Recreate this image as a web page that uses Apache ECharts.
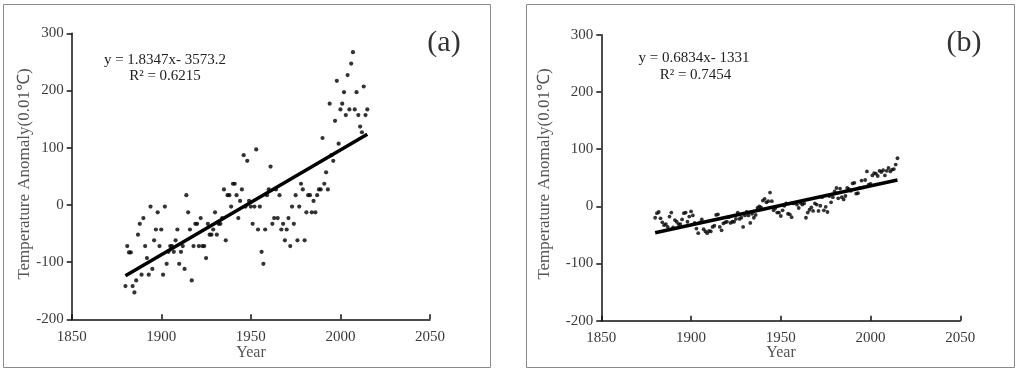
<!DOCTYPE html>
<html>
<head>
<meta charset="utf-8">
<script src="https://cdn.jsdelivr.net/npm/echarts@6/dist/echarts.min.js"></script>
<style>
html,body{margin:0;padding:0;background:#fff;}
#chart{width:1024px;height:373px;}
</style>
</head>
<body>
<div id="chart"></div>
<script>
// ---------- data ----------
var firstYear = 1880;
// Panel (a): regional annual temperature anomaly (0.01 °C), 1880-2015
var anomalyA = [
 -142,-72,-83,-83,-142,-153,-132,-52,-33,-122,
 -23,-72,-93,-122,-3,-112,-62,-43,-13,-72,
 -43,-122,-3,-103,-82,-72,-72,-82,-62,-43,
 -103,-82,-72,-112,17,-13,-43,-132,-72,-33,
 -33,-72,-23,-72,-72,-93,-33,-52,-52,-43,
 -13,-52,-33,-33,-23,27,-62,17,17,-3,
 37,37,17,-23,7,27,87,-3,77,7,
 -3,-33,-3,97,-43,-3,-82,-103,-43,17,
 27,67,-33,-23,27,-23,17,-43,-33,-62,
 -43,-23,-72,-3,-33,17,-62,-3,37,27,
 -62,-13,17,17,-13,7,-13,17,27,27,
 117,37,57,27,177,87,77,147,217,107,
 167,177,197,157,227,167,247,267,167,197,
 157,137,127,207,157,167
];
// Panel (b): global annual temperature anomaly (0.01 °C), 1880-2015
var anomalyB = [
 -20,-12,-10,-21,-28,-33,-31,-36,-18,-11,
 -37,-24,-27,-31,-31,-23,-12,-11,-27,-18,
 -9,-16,-29,-39,-47,-28,-23,-40,-44,-47,
 -43,-44,-36,-34,-15,-14,-36,-42,-30,-28,
 -27,-19,-29,-27,-27,-22,-11,-22,-20,-36,
 -16,-10,-16,-29,-13,-20,-15,-3,0,-2,
 10,13,7,9,24,9,-7,-3,-11,-11,
 -17,-7,1,5,-13,-14,-19,5,6,3,
 -3,6,3,5,-20,-11,-6,-2,-8,5,
 3,-8,1,16,-7,-1,-10,18,7,16,
 26,32,14,31,16,12,18,32,30,27,
 40,41,22,23,32,45,33,46,61,38,
 39,54,58,57,53,62,60,63,54,62,
 67,61,64,65,73,84
];
// Linear trend endpoints (years, values)
var trendYears = [1880, 2015];
var trendA = [-124.0, 123.7];
var trendB = [-46.2, 46.1];
var equationA = ['y = 1.8347x- 3573.2', 'R\u00B2 = 0.6215'];
var equationB = ['y = 0.6834x- 1331', 'R\u00B2 = 0.7454'];
var panelLabels = ['(a)', '(b)'];
var xTicks = {min: 1850, max: 2050, interval: 50};
var yTicks = {min: -200, max: 300, interval: 100};
var xName = 'Year';
var yName = 'Temperature Anomaly(0.01\u2103)';

// ---------- build ----------
function pairs(vals){
  var out = [];
  for (var i = 0; i < vals.length; i++) out.push([firstYear + i, vals[i]]);
  return out;
}
function trendPairs(v){ return [[trendYears[0], v[0]], [trendYears[1], v[1]]]; }

var serif = '"Liberation Serif","Times New Roman",serif';
var numColor = '#3a3a3a';
function plain(v){ return String(v); }

function xAx(gi){
  return {
    gridIndex: gi, type: 'value', min: xTicks.min, max: xTicks.max, interval: xTicks.interval,
    axisLine: {show: true, onZero: false, lineStyle: {color: '#111', width: 1.5}},
    axisTick: {show: true, inside: true, length: 5, lineStyle: {color: '#111', width: 1.5}},
    axisLabel: {color: numColor, fontFamily: serif, fontSize: 15, margin: 10, formatter: plain},
    splitLine: {show: false}
  };
}
function yAx(gi){
  return {
    gridIndex: gi, type: 'value', min: yTicks.min, max: yTicks.max, interval: yTicks.interval,
    axisLine: {show: true, onZero: false, lineStyle: {color: '#111', width: 1.5}},
    axisTick: {show: true, inside: false, length: 5, lineStyle: {color: '#111', width: 1.5}},
    axisLabel: {color: numColor, fontFamily: serif, fontSize: 15, margin: 8, formatter: plain},
    splitLine: {show: false}
  };
}

var chart = echarts.init(document.getElementById('chart'), null, {renderer: 'canvas'});

var option = {
  backgroundColor: '#fff',
  animation: false,
  grid: [
    {left: 71.7, top: 33.3, width: 358.3, height: 286},
    {left: 601.3, top: 34.7, width: 359, height: 286}
  ],
  xAxis: [xAx(0), xAx(1)],
  yAxis: [yAx(0), yAx(1)],
  series: [
    {type: 'scatter', xAxisIndex: 0, yAxisIndex: 0, data: pairs(anomalyA), symbolSize: 4.2,
     itemStyle: {color: '#000'}},
    {type: 'line', xAxisIndex: 0, yAxisIndex: 0, data: trendPairs(trendA), symbol: 'none',
     lineStyle: {color: '#000', width: 3.5}, z: 3},
    {type: 'scatter', xAxisIndex: 1, yAxisIndex: 1, data: pairs(anomalyB), symbolSize: 3.8,
     itemStyle: {color: '#000'}},
    {type: 'line', xAxisIndex: 1, yAxisIndex: 1, data: trendPairs(trendB), symbol: 'none',
     lineStyle: {color: '#000', width: 3.5}, z: 3}
  ],
  graphic: [
    {type: 'rect', shape: {x: 3.5, y: 4.5, width: 487, height: 363}, silent: true,
     style: {fill: null, stroke: '#8a8a8a', lineWidth: 1}},
    {type: 'rect', shape: {x: 526.5, y: 4.5, width: 488, height: 363}, silent: true,
     style: {fill: null, stroke: '#8a8a8a', lineWidth: 1}},
    // equations
    {type: 'text', x: 165, y: 60, style: {text: equationA[0], fill: '#222', font: '15px ' + serif, textAlign: 'center', textVerticalAlign: 'middle'}},
    {type: 'text', x: 165, y: 76.5, style: {text: equationA[1], fill: '#222', font: '15px ' + serif, textAlign: 'center', textVerticalAlign: 'middle'}},
    {type: 'text', x: 694, y: 58, style: {text: equationB[0], fill: '#222', font: '15px ' + serif, textAlign: 'center', textVerticalAlign: 'middle'}},
    {type: 'text', x: 695.5, y: 75, style: {text: equationB[1], fill: '#222', font: '15px ' + serif, textAlign: 'center', textVerticalAlign: 'middle'}},
    // panel labels
    {type: 'text', x: 444, y: 43, style: {text: panelLabels[0], fill: '#333', font: '30px ' + serif, textAlign: 'center', textVerticalAlign: 'middle'}},
    {type: 'text', x: 964, y: 43, style: {text: panelLabels[1], fill: '#333', font: '30px ' + serif, textAlign: 'center', textVerticalAlign: 'middle'}},
    // axis names
    {type: 'text', x: 251, y: 353, style: {text: xName, fill: '#555', font: '16px ' + serif, textAlign: 'center', textVerticalAlign: 'middle'}},
    {type: 'text', x: 781, y: 353, style: {text: xName, fill: '#555', font: '16px ' + serif, textAlign: 'center', textVerticalAlign: 'middle'}},
    {type: 'text', x: 25, y: 174, rotation: Math.PI / 2, style: {text: yName, fill: '#555', font: '17px ' + serif, textAlign: 'center', textVerticalAlign: 'middle'}},
    {type: 'text', x: 545, y: 174, rotation: Math.PI / 2, style: {text: yName, fill: '#555', font: '17px ' + serif, textAlign: 'center', textVerticalAlign: 'middle'}}
  ]
};
chart.setOption(option);
</script>
</body>
</html>
